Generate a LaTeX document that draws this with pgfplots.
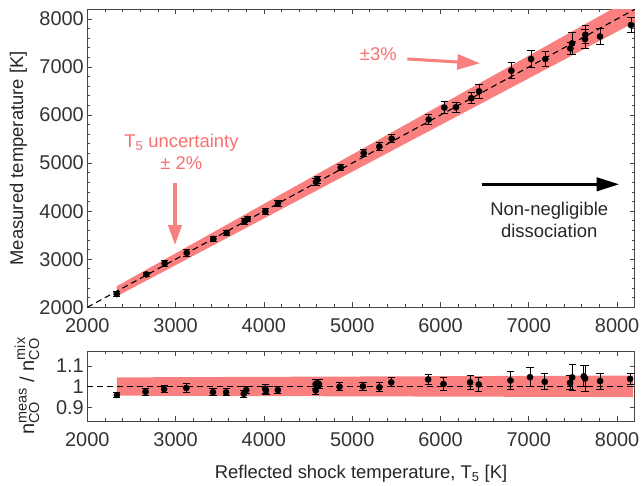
\documentclass[border=0pt]{standalone}
\usepackage{pgfplots}
\pgfplotsset{compat=1.18}
\usepackage{pgfplotstable}
\usepackage{fontspec}
\setmainfont{Liberation Sans}
\usetikzlibrary{arrows.meta}
\definecolor{band}{RGB}{250,128,128}
\definecolor{anno}{RGB}{248,112,112}
\definecolor{axgray}{RGB}{70,70,70}
\newcommand{\sm}[1]{\mbox{\fontsize{14.5}{14.5}\selectfont #1}}

\pgfplotstableread{
x y e
2333 2276 50
2668 2685 50
2876 2913 55
3126 3133 70
3427 3423 55
3578 3548 55
3782 3790 60
3816 3838 55
4016 3991 65
4160 4164 60
4590 4606 75
4605 4656 75
4870 4905 66
5130 5208 76
5307 5346 83
5447 5506 86
5866 5907 104
6043 6156 120
6175 6162 110
6349 6349 114
6436 6494 140
6802 6923 165
7025 7166 180
7187 7166 155
7470 7386 125
7489 7490 235
7636 7581 190
7640 7670 190
7806 7635 175
8157 7871 150
}\toptable

\pgfplotstableread{
x y e
2335 0.960 0.014
2660 0.976 0.016
2870 0.989 0.016
3121 0.994 0.021
3423 0.974 0.017
3572 0.973 0.017
3772 0.966 0.018
3800 0.984 0.016
4014 0.990 0.022
4023 0.982 0.018
4158 0.984 0.016
4586 0.982 0.020
4586 1.013 0.020
4623 1.013 0.020
4609 1.016 0.018
4856 1.000 0.020
5121 1.002 0.020
5307 0.997 0.022
5442 1.021 0.022
5860 1.035 0.025
6033 1.013 0.031
6335 1.021 0.032
6433 1.011 0.035
6792 1.030 0.042
7014 1.046 0.046
7180 1.024 0.038
7467 1.019 0.033
7490 1.045 0.061
7622 1.050 0.051
7637 1.040 0.064
7807 1.027 0.039
8147 1.038 0.028
}\bottable

\pgfplotsset{
  myaxis/.style={
    scale only axis, width=547.5bp,
    xmin=2000, xmax=8200,
    xtick={2000,3000,...,8000},
    minor x tick num=4,
    tick align=inside,
    major tick length=5bp, minor tick length=3bp,
    axis line style={axgray, line width=0.9bp},
    every tick/.style={axgray, line width=0.8bp},
    tick label style={text=black!80, font=\fontsize{20}{24}\selectfont},
    label style={text=black!85, font=\fontsize{18.5}{22}\selectfont},
    /pgf/number format/assume math mode=true,
    /pgf/number format/1000 sep={},
  },
  pts/.style={only marks, mark=*, mark size=3.1bp, black,
    error bars/.cd, y dir=both, y explicit,
    error bar style={line width=0.9bp, black},
    error mark options={rotate=90, mark size=3.6bp, line width=0.9bp, black}},
}

\begin{document}
\begin{tikzpicture}[font=\fontsize{18.5}{22}\selectfont]
\useasboundingbox (-87.3bp,-178.7bp) rectangle (555.7bp,307.3bp);
\begin{axis}[myaxis, name=top, at={(0,0)}, anchor=south west,
  height=298bp,
  ymin=2000, ymax=8200,
  ytick={2000,3000,...,8000},
  minor y tick num=4,
  xticklabel style={yshift=-8bp},
  ylabel={Measured temperature [K]},
  ylabel style={at={(axis description cs:-0.126,0.5)}, anchor=center},
]
\addplot[fill=band, draw=none] coordinates {(2333,2228) (2333,2438) (8400,8675) (8400,8125)} -- cycle;
\addplot[black, dash pattern=on 6bp off 4bp, line width=1.1bp] coordinates {(2000,2000) (8200,8200)};
\addplot[pts] table[x=x, y=y, y error=e] {\toptable};
\node[text=anno, anchor=base] at (axis cs:3066,5329) {T\textsubscript{5} uncertainty};
\node[text=anno, anchor=base] at (axis cs:3066,4857) {± 2\%};
\draw[band, line width=3.3bp, -{Triangle[length=20bp,width=13.3bp]}] (axis cs:2993,4580) -- (axis cs:2993,3296);
\node[text=anno, anchor=base] at (axis cs:5295,7125) {±3\%};
\draw[band, line width=3bp, -{Triangle[length=22.7bp,width=15bp]}] (axis cs:5624,7166) -- (axis cs:6447,7077);
\draw[black, line width=3.3bp, -{Triangle[length=22.7bp,width=13.3bp]}] (axis cs:6466,4559) -- (axis cs:8024,4559);
\node[text=black!85, anchor=base] at (axis cs:7231,3900) {Non-negligible};
\node[text=black!85, anchor=base] at (axis cs:7231,3442) {dissociation};
\end{axis}
\begin{axis}[myaxis, name=bot, at={(0,-43.7bp)}, anchor=north west,
  height=70bp,
  ymin=0.835, ymax=1.172,
  ytick={0.9,1,1.1},
  yticklabels={0.9,1,1.1},
  xticklabel style={yshift=-8bp},
  xlabel={Reflected shock temperature, T\textsubscript{5} [K]},
  xlabel style={at={(axis description cs:0.5,-0.819)}, anchor=base},
  ylabel={\fontsize{20}{24}\selectfont$\mbox{n}^{\sm{meas}}_{\sm{CO}}\mbox{ / n}^{\sm{mix}}_{\sm{CO}}$},
  ylabel style={at={(axis description cs:-0.11,0.5)}, anchor=center},
]
\addplot[fill=band, draw=none] coordinates {(2335,0.957) (2335,1.045) (8180,1.054) (8180,0.950)} -- cycle;
\addplot[black, dash pattern=on 6bp off 4bp, line width=1.1bp] coordinates {(2000,1) (8200,1)};
\addplot[pts] table[x=x, y=y, y error=e] {\bottable};
\end{axis}
\end{tikzpicture}
\end{document}
